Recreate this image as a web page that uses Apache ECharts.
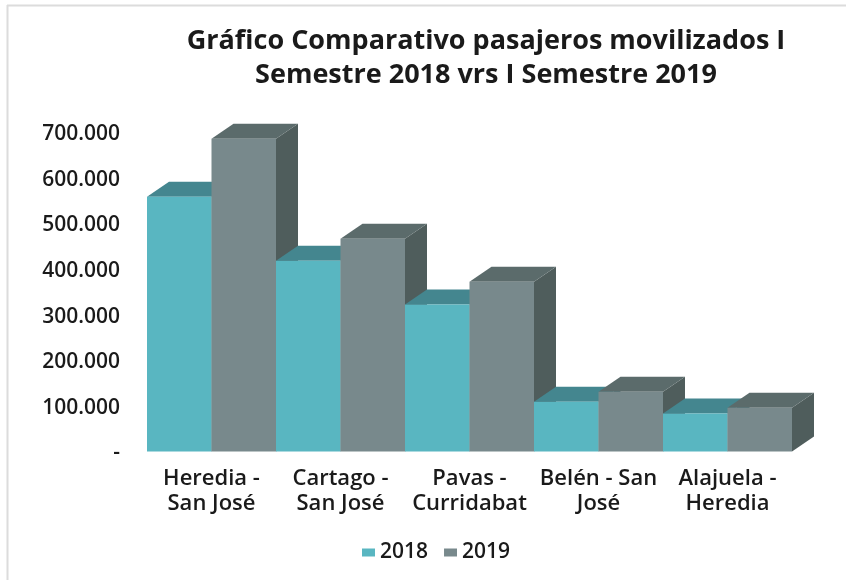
<!DOCTYPE html>
<html>
<head>
<meta charset="utf-8">
<style>
    html, body { margin: 0; padding: 0; background: #fff; }
    #chart { width: 846px; height: 580px; }
</style>
<script src="https://cdn.jsdelivr.net/npm/echarts@6/dist/echarts.min.js"></script>
</head>
<body>
<div id="chart"></div>
<script>
const categories = ['Heredia -\nSan José', 'Cartago -\nSan José', 'Pavas -\nCurridabat', 'Belén - San\nJosé', 'Alajuela -\nHeredia'];
const values2018 = [558000, 418000, 322000, 109000, 83000];
const values2019 = [685000, 466000, 372000, 131000, 96000];

const FONT = 'Open Sans';
const DEPTH_X = 22;
const DEPTH_Y = 15;

// 每个系列三个面的颜色：正面、顶面、侧面
const faces2018 = { front: '#59b6c1', top: '#44868f', side: '#3f7780' };
const faces2019 = { front: '#78898c', top: '#5b6b6b', side: '#4f5d5c' };

// 画一根假 3D 柱子，seriesPos 0 在类目左边，1 在右边
function bar3d(faces, seriesPos) {
    return function (params, api) {
        const catIndex = api.value(0);
        const base = api.coord([catIndex, 0]);
        const top = api.coord([catIndex, api.value(1)]);
        const w = api.size([1, 0])[0] / 2;
        const x0 = base[0] - w + seriesPos * w;
        const x1 = x0 + w;
        const y0 = base[1];
        const y1 = top[1];
        const z = catIndex * 2 + seriesPos;
        return {
            type: 'group',
            children: [
                {
                    type: 'polygon',
                    z2: z,
                    shape: { points: [[x1, y0], [x1 + DEPTH_X, y0 - DEPTH_Y], [x1 + DEPTH_X, y1 - DEPTH_Y], [x1, y1]] },
                    style: { fill: faces.side }
                },
                {
                    type: 'polygon',
                    z2: z,
                    shape: { points: [[x0, y1], [x0 + DEPTH_X, y1 - DEPTH_Y], [x1 + DEPTH_X, y1 - DEPTH_Y], [x1, y1]] },
                    style: { fill: faces.top }
                },
                {
                    type: 'rect',
                    z2: z,
                    shape: { x: x0, y: y1, width: w, height: y0 - y1 },
                    style: { fill: faces.front }
                }
            ]
        };
    };
}

const chart = echarts.init(document.getElementById('chart'), null, { renderer: 'canvas' });

const option = {
    animation: false,
    backgroundColor: '#fff',
    graphic: [
        { type: 'line', shape: { x1: 7.5, y1: 5, x2: 7.5, y2: 580 }, style: { stroke: '#dcdcdc', lineWidth: 2 } },
        { type: 'line', shape: { x1: 7, y1: 5.5, x2: 846, y2: 5.5 }, style: { stroke: '#dcdcdc', lineWidth: 2 } }
    ],
    title: {
        text: 'Gráfico Comparativo pasajeros movilizados I\nSemestre 2018 vrs I Semestre 2019',
        left: 481,
        top: 19,
        textAlign: 'center',
        textStyle: {
            fontFamily: FONT,
            fontSize: 27,
            fontWeight: 'bold',
            lineHeight: 34,
            color: '#1a1a1a'
        }
    },
    legend: {
        data: ['2018', '2019'],
        left: 362,
        top: 542,
        padding: 0,
        itemWidth: 13,
        itemHeight: 8,
        itemGap: 16,
        icon: 'rect',
        textStyle: {
            fontFamily: FONT,
            fontSize: 21,
            fontWeight: 600,
            color: '#1a1a1a'
        }
    },
    grid: {
        left: 147,
        right: 54,
        top: 132,
        bottom: 128.5
    },
    xAxis: {
        type: 'category',
        data: categories,
        axisLine: { show: false },
        axisTick: { show: false },
        axisLabel: {
            interval: 0,
            margin: 15,
            fontFamily: FONT,
            fontSize: 22,
            fontWeight: 600,
            lineHeight: 25,
            color: '#1a1a1a'
        }
    },
    yAxis: {
        type: 'value',
        min: 0,
        max: 700000,
        interval: 100000,
        axisLine: { show: false },
        axisTick: { show: false },
        splitLine: { show: false },
        axisLabel: {
            margin: 27,
            color: '#1a1a1a',
            formatter: function (value) {
                if (value === 0) {
                    return '{tick|-}';
                }
                return '{tick|' + String(value).replace(/\B(?=(\d{3})+$)/g, '.') + '}';
            },
            rich: {
                tick: {
                    fontFamily: FONT,
                    fontSize: 21,
                    fontWeight: 600,
                    color: '#1a1a1a',
                    padding: [4, 0, 0, 0]
                }
            }
        }
    },
    series: [
        {
            name: '2018',
            type: 'custom',
            itemStyle: { color: faces2018.front },
            encode: { x: 0, y: 1 },
            data: values2018.map((v, i) => [i, v]),
            renderItem: bar3d(faces2018, 0)
        },
        {
            name: '2019',
            type: 'custom',
            itemStyle: { color: faces2019.front },
            encode: { x: 0, y: 1 },
            data: values2019.map((v, i) => [i, v]),
            renderItem: bar3d(faces2019, 1)
        }
    ]
};

chart.setOption(option);
</script>
</body>
</html>
